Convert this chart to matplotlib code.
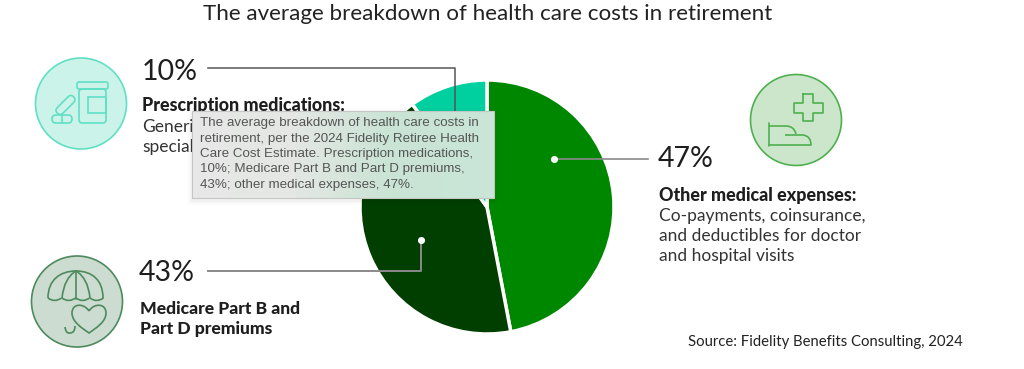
"""Health care costs in retirement: pie with callouts, icons and a hover tooltip."""
import matplotlib
matplotlib.use('Agg')
import matplotlib.pyplot as plt
import matplotlib.patches as mpatches
from matplotlib.colors import LinearSegmentedColormap
from matplotlib.path import Path
from matplotlib.transforms import Affine2D
import numpy as np

W, H = 1024, 369

TITLE = "The average breakdown of health care costs in retirement"
SOURCE = "Source: Fidelity Benefits Consulting, 2024"
TOOLTIP = ("The average breakdown of health care costs in\n"
           "retirement, per the 2024 Fidelity Retiree Health\n"
           "Care Cost Estimate. Prescription medications,\n"
           "10%; Medicare Part B and Part D premiums,\n"
           "43%; other medical expenses, 47%.")

# clockwise from 12 o'clock
categories = ["Other medical expenses", "Medicare Part B and Part D premiums", "Prescription medications"]
values = [47, 43, 10]
pie_colors = ['#008700', '#003f00', '#00cfa0']

plt.rcParams['font.family'] = ['Lato', 'DejaVu Sans']
fig = plt.figure(figsize=(W / 100, H / 100), dpi=100, facecolor='white')

# ── Pie ──
cx, cy, r = 487, 207, 127
ax_pie = fig.add_axes([(cx - r) / W, 1 - (cy + r) / H, 2 * r / W, 2 * r / H], zorder=1)
ax_pie.pie(values, colors=pie_colors, startangle=90, counterclock=False, radius=1.0,
           wedgeprops=dict(edgecolor='white', linewidth=2.5))
ax_pie.set_xlim(-1, 1)
ax_pie.set_ylim(-1, 1)

# ── Overlay in pixel coordinates ──
ax = fig.add_axes([0, 0, 1, 1], zorder=2)
ax.set_xlim(0, W)
ax.set_ylim(H, 0)
ax.axis('off')
ax.patch.set_alpha(0)

# Leaders
ax.plot([208, 455, 455], [68, 68, 125], color='#555555', lw=1.1, zorder=2)
ax.plot([208, 421, 421], [271, 271, 240], color='#8a8a8a', lw=1.4, zorder=2)
ax.plot([554, 648], [159, 159], color='#8a8a8a', lw=1.2, zorder=2)
ax.scatter([421, 554], [240, 159], s=26, color='white', zorder=3, lw=0)


def stroke(xs, ys, color, lw=1.2):
    ax.plot(xs, ys, color=color, lw=lw, solid_capstyle='round', solid_joinstyle='round', zorder=3)


def rbox(x, y, w, h, rad, color, lw=1.2, angle=0):
    box = mpatches.FancyBboxPatch((x + rad, y + rad), w - 2 * rad, h - 2 * rad,
                                  boxstyle=f'round,pad={rad},rounding_size={rad}',
                                  fc='none', ec=color, lw=lw, zorder=3)
    if angle:
        box.set_transform(Affine2D().rotate_deg_around(x + w / 2, y + h / 2, angle) + ax.transData)
    ax.add_patch(box)


def curve(verts, codes, color, lw=1.2):
    ax.add_patch(mpatches.PathPatch(Path(verts, codes), fc='none', ec=color, lw=lw, zorder=3))


M, L, C3, C4 = Path.MOVETO, Path.LINETO, Path.CURVE3, Path.CURVE4

# Icon: pills and bottle
c1 = '#5fe0c4'
ax.add_patch(mpatches.Circle((81, 103.5), 45.5, fc='#ccf3ea', ec=c1, lw=1.2, zorder=2))
rbox(77, 82, 31, 7, 2, c1)
rbox(79, 89, 27, 34, 3, c1)
ax.add_patch(mpatches.Rectangle((88, 97), 18, 16, fc='none', ec=c1, lw=1.2, zorder=3))
rbox(54, 101, 23, 8, 4, c1, angle=-45)
rbox(52, 115, 20, 8, 4, c1)
stroke([62, 62], [115, 123], c1)

# Icon: umbrella and heart
c2 = '#4d8a5e'
ax.add_patch(mpatches.Circle((77, 301.5), 45.5, fc='#ccdcd0', ec=c2, lw=1.2, zorder=2))
curve([(48, 298), (48, 280), (60, 271), (76, 271), (92, 271), (103, 280), (103, 298)],
      [M, C4, C4, C4, C4, C4, C4], c2)
curve([(62, 298), (64, 278), (76, 271), (88, 278), (90, 298)], [M, C3, C3, C3, C3], c2)
stroke([76, 76], [271, 299], c2)
for x0 in [48, 62, 76, 90]:
    curve([(x0, 298), (x0 + 6.5, 303), (x0 + 13.5, 298)], [M, C3, C3], c2)
curve([(89, 311), (94, 303), (106, 303), (106, 313),
       (106, 322), (96, 328), (89, 333),
       (82, 328), (72, 322), (72, 313),
       (72, 303), (84, 303), (89, 311)],
      [M, C4, C4, C4, C4, C4, C4, C4, C4, C4, C4, C4, C4], c2)
curve([(65, 327), (66, 334), (70, 333), (75, 333), (75, 326)], [M, C3, C3, C3, C3], c2)

# Icon: cross and hand
c3 = '#4fb04f'
ax.add_patch(mpatches.Circle((796, 120), 45.5, fc='#cce6cc', ec=c3, lw=1.2, zorder=2))
cross_x = [803, 813, 813, 823, 823, 813, 813, 803, 803, 794, 794, 803, 803]
cross_y = [94, 94, 103, 103, 113, 113, 121, 121, 113, 113, 103, 103, 94]
stroke(cross_x, cross_y, c3)
stroke([769, 769], [123, 146], c3)
stroke([769, 811], [145, 145], c3)
curve([(769, 126), (786, 126), (794, 126), (796, 134)], [M, L, C3, C3], c3)
curve([(785, 135), (803, 135), (811, 136), (811, 145)], [M, L, C3, C3], c3)

# ── Text ──
ink = '#1e1e1e'
body = '#333333'
FS_BOLD, FS_BODY = 12.9, 12.5
ax.text(203, 14, TITLE, fontsize=16.1, color='#222222', va='center', ha='left', zorder=4)
ax.text(142, 72, "10%", fontsize=20.5, color=ink, va='center', zorder=4)
ax.text(142, 105, "Prescription medications:", fontsize=FS_BOLD, fontweight=900, color=ink, va='center', zorder=4)
ax.text(142, 127, "Generi", fontsize=FS_BODY, color=body, va='center', zorder=4)
ax.text(142, 147, "special", fontsize=FS_BODY, color=body, va='center', zorder=4)
ax.text(139, 273, "43%", fontsize=20.5, color=ink, va='center', zorder=4)
ax.text(140, 309, "Medicare Part B and", fontsize=FS_BOLD - 0.3, fontweight=900, color=ink, va='center', zorder=4)
ax.text(140, 329, "Part D premiums", fontsize=FS_BOLD - 0.3, fontweight=900, color=ink, va='center', zorder=4)
ax.text(658, 159, "47%", fontsize=20.5, color=ink, va='center', zorder=4)
ax.text(659, 195, "Other medical expenses:", fontsize=FS_BOLD, fontweight=900, color=ink, va='center', zorder=4)
for y, line in zip([216, 236, 256], ["Co-payments, coinsurance,", "and deductibles for doctor", "and hospital visits"]):
    ax.text(659, y, line, fontsize=FS_BODY, color=body, va='center', zorder=4)
ax.text(688, 342, SOURCE, fontsize=10.7, color='#222222', va='center', zorder=4)

# ── Tooltip ──
for grow, al in [(5, 0.012), (3, 0.018), (1.5, 0.025)]:
    ax.add_patch(mpatches.Rectangle((192 - grow, 111 - grow + 2), 302 + 2 * grow, 87 + 2 * grow,
                                    fc='black', ec='none', alpha=al, zorder=5))
backdrop = LinearSegmentedColormap.from_list('blur', ['#e7e8e7', '#e4e7e4', '#c9e4d4', '#c9e6d8'])
im = ax.imshow(np.linspace(0, 1, 64)[None, :], cmap=backdrop, extent=(192, 494, 198, 111),
               aspect='auto', zorder=6)
ax.set_xlim(0, W)
ax.set_ylim(H, 0)
ax.add_patch(mpatches.Rectangle((192, 111), 302, 87, fc='none', ec='#c4c6c4', lw=0.8, zorder=6))
ax.text(200, 154, TOOLTIP, family=['Liberation Sans', 'DejaVu Sans'], fontsize=9.6, color='#555555',
        va='center', ha='left', linespacing=1.37, zorder=7)

plt.savefig('out.png', dpi=100, facecolor='white')
plt.close()
